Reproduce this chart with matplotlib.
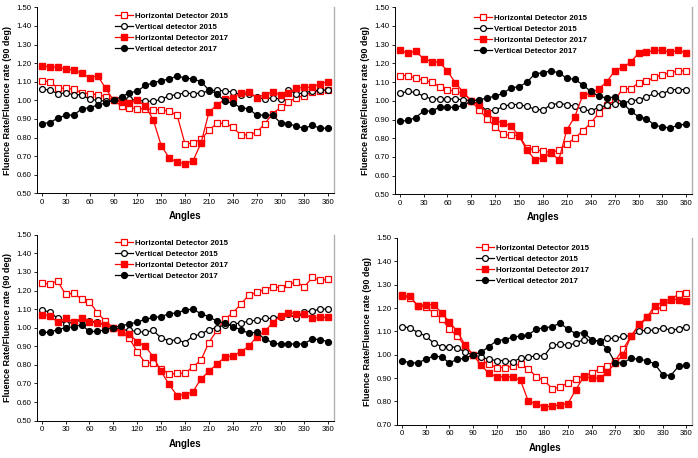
import matplotlib
matplotlib.use("Agg")
import matplotlib.pyplot as plt
import numpy as np

plt.rcParams['font.family'] = ['Liberation Sans', 'DejaVu Sans']

angles = list(range(0, 361, 10))

# Panel 1 (top-left)
p1_h2015 = [1.105, 1.10, 1.065, 1.065, 1.06, 1.04, 1.035, 1.03, 1.02, 1.00, 0.97, 0.96, 0.955, 0.955, 0.95, 0.95, 0.94, 0.92, 0.763, 0.772, 0.79, 0.839, 0.876, 0.876, 0.856, 0.813, 0.815, 0.828, 0.873, 0.928, 0.962, 0.992, 1.015, 1.025, 1.045, 1.05, 1.055]
p1_v2015 = [1.06, 1.055, 1.035, 1.04, 1.03, 1.03, 1.005, 1.00, 0.995, 1.00, 1.00, 1.005, 1.00, 0.995, 0.995, 1.005, 1.025, 1.03, 1.04, 1.035, 1.04, 1.05, 1.055, 1.05, 1.045, 1.03, 1.035, 1.02, 1.005, 1.015, 1.005, 1.055, 1.035, 1.04, 1.05, 1.055, 1.055]
p1_h2017 = [1.186, 1.179, 1.177, 1.168, 1.163, 1.145, 1.122, 1.132, 1.065, 1.00, 0.99, 0.985, 1.00, 0.97, 0.894, 0.756, 0.69, 0.667, 0.66, 0.675, 0.77, 0.935, 0.975, 1.005, 1.015, 1.04, 1.045, 1.015, 1.03, 1.045, 1.03, 1.04, 1.065, 1.07, 1.07, 1.09, 1.10]
p1_v2017 = [0.875, 0.88, 0.905, 0.92, 0.92, 0.955, 0.96, 0.975, 0.985, 1.00, 1.02, 1.04, 1.05, 1.08, 1.095, 1.105, 1.115, 1.13, 1.12, 1.115, 1.10, 1.055, 1.035, 0.995, 0.985, 0.96, 0.955, 0.92, 0.92, 0.92, 0.88, 0.875, 0.86, 0.85, 0.865, 0.85, 0.85]

# Panel 2 (top-right)
p2_h2015 = [1.135, 1.135, 1.12, 1.11, 1.10, 1.075, 1.06, 1.05, 1.04, 1.00, 0.95, 0.905, 0.86, 0.82, 0.815, 0.815, 0.745, 0.74, 0.73, 0.725, 0.735, 0.77, 0.80, 0.84, 0.88, 0.935, 0.975, 1.00, 1.065, 1.065, 1.095, 1.105, 1.125, 1.14, 1.15, 1.16, 1.16]
p2_v2015 = [1.04, 1.05, 1.045, 1.025, 1.01, 1.01, 1.01, 1.01, 1.005, 1.00, 0.98, 0.945, 0.95, 0.97, 0.98, 0.98, 0.97, 0.955, 0.95, 0.98, 0.985, 0.98, 0.97, 0.955, 0.945, 0.965, 0.975, 0.985, 0.985, 1.00, 1.005, 1.02, 1.04, 1.035, 1.06, 1.06, 1.06]
p2_h2017 = [1.27, 1.255, 1.265, 1.225, 1.21, 1.205, 1.16, 1.095, 1.045, 1.00, 0.975, 0.935, 0.895, 0.88, 0.865, 0.81, 0.735, 0.685, 0.695, 0.72, 0.685, 0.845, 0.915, 1.03, 1.04, 1.065, 1.10, 1.16, 1.18, 1.205, 1.255, 1.26, 1.27, 1.27, 1.26, 1.27, 1.255]
p2_v2017 = [0.89, 0.895, 0.91, 0.945, 0.945, 0.965, 0.965, 0.965, 0.975, 1.00, 1.005, 1.015, 1.025, 1.04, 1.07, 1.075, 1.10, 1.145, 1.15, 1.16, 1.15, 1.12, 1.115, 1.085, 1.05, 1.025, 1.015, 1.02, 0.99, 0.945, 0.915, 0.905, 0.87, 0.86, 0.855, 0.87, 0.875]

# Panel 3 (bottom-left)
p3_h2015 = [1.24, 1.235, 1.25, 1.18, 1.185, 1.155, 1.14, 1.08, 1.035, 1.00, 0.975, 0.945, 0.87, 0.812, 0.81, 0.78, 0.75, 0.755, 0.755, 0.79, 0.825, 0.92, 0.985, 1.045, 1.08, 1.125, 1.175, 1.19, 1.205, 1.22, 1.215, 1.235, 1.245, 1.22, 1.27, 1.255, 1.26]
p3_v2015 = [1.095, 1.085, 1.05, 1.02, 1.03, 1.04, 1.035, 1.03, 1.01, 1.00, 0.99, 0.985, 0.98, 0.975, 0.985, 0.945, 0.93, 0.935, 0.92, 0.955, 0.965, 0.99, 1.00, 1.015, 1.02, 1.025, 1.035, 1.04, 1.05, 1.05, 1.06, 1.075, 1.05, 1.085, 1.09, 1.10, 1.10]
p3_h2017 = [1.07, 1.065, 1.03, 1.05, 1.03, 1.05, 1.03, 1.025, 1.015, 1.00, 0.975, 0.965, 0.925, 0.90, 0.845, 0.765, 0.695, 0.635, 0.64, 0.655, 0.725, 0.765, 0.805, 0.84, 0.85, 0.87, 0.90, 0.95, 0.98, 1.025, 1.065, 1.08, 1.075, 1.075, 1.05, 1.055, 1.055]
p3_v2017 = [0.975, 0.975, 0.99, 1.00, 1.005, 1.015, 0.98, 0.98, 0.99, 1.00, 1.01, 1.02, 1.03, 1.045, 1.055, 1.06, 1.075, 1.08, 1.095, 1.10, 1.075, 1.06, 1.035, 1.025, 1.005, 0.99, 0.97, 0.975, 0.94, 0.92, 0.91, 0.915, 0.91, 0.915, 0.94, 0.935, 0.925]

# Panel 4 (bottom-right)
p4_h2015 = [1.25, 1.245, 1.21, 1.205, 1.18, 1.155, 1.11, 1.08, 1.035, 1.00, 0.975, 0.96, 0.945, 0.945, 0.95, 0.96, 0.94, 0.905, 0.89, 0.855, 0.86, 0.88, 0.895, 0.91, 0.92, 0.94, 0.95, 0.975, 1.025, 1.08, 1.12, 1.16, 1.19, 1.205, 1.235, 1.26, 1.265]
p4_v2015 = [1.12, 1.115, 1.095, 1.08, 1.05, 1.035, 1.035, 1.03, 1.01, 1.00, 0.99, 0.98, 0.975, 0.975, 0.97, 0.985, 0.99, 0.995, 0.995, 1.04, 1.045, 1.04, 1.05, 1.065, 1.06, 1.06, 1.07, 1.07, 1.08, 1.08, 1.10, 1.105, 1.105, 1.115, 1.105, 1.11, 1.12]
p4_h2017 = [1.255, 1.25, 1.21, 1.215, 1.215, 1.18, 1.14, 1.10, 1.04, 1.00, 0.955, 0.92, 0.905, 0.905, 0.905, 0.89, 0.80, 0.79, 0.775, 0.78, 0.785, 0.79, 0.85, 0.905, 0.90, 0.90, 0.925, 0.965, 1.00, 1.08, 1.13, 1.16, 1.21, 1.225, 1.24, 1.235, 1.23]
p4_v2017 = [0.975, 0.965, 0.965, 0.98, 0.995, 0.99, 0.965, 0.98, 0.985, 1.00, 1.01, 1.035, 1.06, 1.065, 1.075, 1.08, 1.085, 1.11, 1.115, 1.12, 1.135, 1.11, 1.09, 1.095, 1.065, 1.055, 1.025, 0.965, 0.965, 0.985, 0.98, 0.975, 0.96, 0.915, 0.91, 0.95, 0.955]

labels_a = ["Horizontal Detector 2015", "Vertical detector 2015", "Horizontal Detector 2017", "Vertical detector 2017"]
labels_b = ["Horizontal Detector 2015", "Vertical Detector 2015", "Horizontal Detector 2017", "Vertical Detector 2017"]

xticks = list(range(0, 361, 30))

W, H = 698, 458
fig = plt.figure(figsize=(W / 100, H / 100), dpi=100)

XMIN, XMAX = -6.0, 367.0

def rect(left_px, zero_px, pxdeg, top_px, bottom_px):
    l = zero_px + XMIN * pxdeg
    r = zero_px + XMAX * pxdeg
    return [l / W, 1 - bottom_px / H, (r - l) / W, (bottom_px - top_px) / H]

panels = [
    dict(rect=rect(37, 42.0, 0.795, 7.3, 193.3), ylim=(0.5, 1.5), data=(p1_h2015, p1_v2015, p1_h2017, p1_v2017), labels=labels_a, leg=(115, 12)),
    dict(rect=rect(394.7, 399.7, 0.796, 7.3, 194.3), ylim=(0.5, 1.5), data=(p2_h2015, p2_v2015, p2_h2017, p2_v2017), labels=labels_b, leg=(474, 14)),
    dict(rect=rect(37, 41.7, 0.796, 234.7, 420.7), ylim=(0.5, 1.5), data=(p3_h2015, p3_v2015, p3_h2017, p3_v2017), labels=labels_b, leg=(115, 239)),
    dict(rect=rect(398, 402.0, 0.79, 238.0, 424.7), ylim=(0.7, 1.5), data=(p4_h2015, p4_v2015, p4_h2017, p4_v2017), labels=labels_a, leg=(476, 244)),
]

red = '#FF0000'
for p in panels:
    ax = fig.add_axes(p['rect'])
    h15, v15, h17, v17 = p['data']
    lab = p['labels']
    ax.plot(angles, h15, color=red, lw=0.9, marker='s', ms=4, mfc='white', mec=red, mew=0.9, label=lab[0])
    ax.plot(angles, v15, color='black', lw=0.9, marker='o', ms=4.2, mfc='white', mec='black', mew=0.9, label=lab[1])
    ax.plot(angles, h17, color=red, lw=0.9, marker='s', ms=4, mfc=red, mec=red, label=lab[2])
    ax.plot(angles, v17, color='black', lw=0.9, marker='o', ms=4.2, mfc='black', mec='black', label=lab[3])
    ax.set_xlim(XMIN, XMAX)
    ax.set_ylim(*p['ylim'])
    ax.set_xticks(xticks)
    ax.set_yticks(np.arange(p['ylim'][0], 1.501, 0.1))
    ax.set_yticklabels([f"{v:.2f}" for v in np.arange(p['ylim'][0], 1.501, 0.1)])
    ax.tick_params(labelsize=5.6, length=2, width=0.6, direction='out', pad=2)
    ax.spines['top'].set_visible(False)
    ax.spines['right'].set_color('#b0b0b0')
    ax.spines['right'].set_linewidth(1.0)
    ax.spines['left'].set_linewidth(0.7)
    ax.spines['bottom'].set_linewidth(0.7)
    ax.set_xlabel("Angles", fontsize=7, fontweight='bold', labelpad=4)
    ax.set_ylabel("Fluence Rate/Fluence rate (90 deg)", fontsize=6.5, fontweight='bold', labelpad=3)
    lx, ly = p['leg']
    ax.legend(loc='upper left', bbox_to_anchor=(lx / W, 1 - ly / H), bbox_transform=fig.transFigure,
              frameon=False, fontsize=5.7, prop={'weight': 'bold', 'size': 5.7},
              handlelength=2.3, handletextpad=0.2, labelspacing=0.45, borderpad=0, borderaxespad=0)

fig.savefig("out.png", dpi=100)
